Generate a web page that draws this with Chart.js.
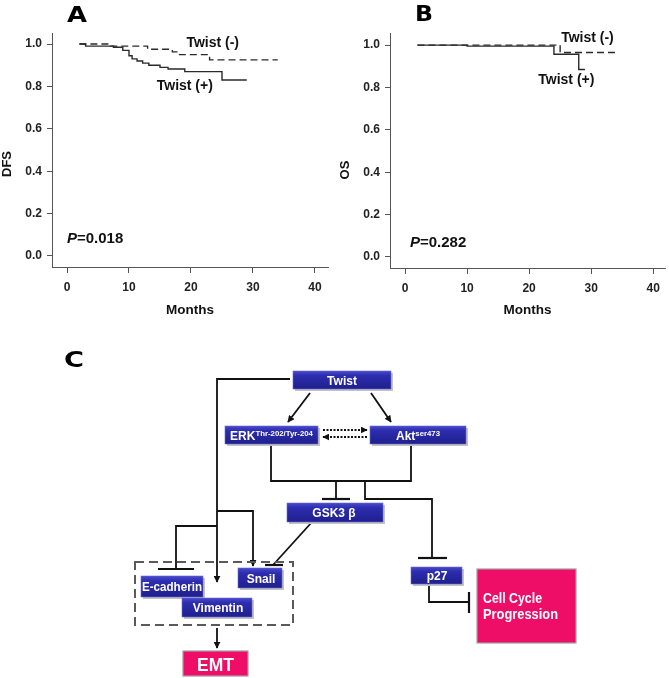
<!DOCTYPE html>
<html>
<head>
<meta charset="utf-8">
<script src="https://cdn.jsdelivr.net/npm/chart.js@4"></script>
<style>
  body { margin: 0; background: #fff; width: 669px; height: 678px; overflow: hidden; position: relative; font-family: "Liberation Sans", Arial, sans-serif; }
  canvas { position: absolute; top: 0; }
  #dfs { left: 0; }
  #os { left: 335px; }
  svg { position: absolute; left: 0; top: 0; }
  .box text { fill: #fff; font-weight: bold; font-size: 12px; text-anchor: middle; }
  .panel { font-family: "DejaVu Sans", sans-serif; font-weight: bold; fill: #000; }
</style>
</head>
<body>
<canvas id="dfs" width="335" height="320"></canvas>
<canvas id="os" width="334" height="320"></canvas>

<svg width="669" height="678" xmlns="http://www.w3.org/2000/svg">
  <defs>
    <linearGradient id="blue" x1="0" y1="0" x2="0" y2="1">
      <stop offset="0" stop-color="#4a4acc"/>
      <stop offset="0.25" stop-color="#2d2db0"/>
      <stop offset="1" stop-color="#1f1f8c"/>
    </linearGradient>
    <marker id="head" viewBox="0 0 10 10" refX="9" refY="5" markerUnits="userSpaceOnUse" markerWidth="7" markerHeight="7" orient="auto">
      <path d="M0,0 L10,5 L0,10 z" fill="#111"/>
    </marker>
  </defs>

  <!-- panel letters -->
  <text class="panel" x="67" y="22" font-size="21" textLength="20" lengthAdjust="spacingAndGlyphs">A</text>
  <text class="panel" x="415" y="21" font-size="21" textLength="18" lengthAdjust="spacingAndGlyphs">B</text>
  <text class="panel" x="64" y="367" font-size="22" textLength="20" lengthAdjust="spacingAndGlyphs">C</text>

  <!-- connectors -->
  <g stroke="#111" stroke-width="1.8" fill="none">
    <polyline points="290,379 217,379 217,582" marker-end="url(#head)"/>
    <polyline points="217,511 253,511 253,566" marker-end="url(#head)"/>
    <polyline points="217,526 176,526 176,569"/>
    <line x1="158" y1="569" x2="194" y2="569" stroke-width="2.2"/>
    <line x1="312" y1="522" x2="273" y2="565"/>
    <line x1="265" y1="565" x2="283" y2="565" stroke-width="2.2"/>
    <line x1="310" y1="393" x2="288" y2="422" marker-end="url(#head)"/>
    <line x1="371" y1="393" x2="391" y2="422" marker-end="url(#head)"/>
    <polyline points="271,444 271,481 411,481 411,444"/>
    <line x1="336" y1="481" x2="336" y2="499"/>
    <line x1="322" y1="499" x2="350" y2="499" stroke-width="2.2"/>
    <polyline points="365,481 365,499 432,499 432,558"/>
    <line x1="418" y1="558" x2="447" y2="558" stroke-width="2.2"/>
    <polyline points="429,585 429,602 469,602"/>
    <line x1="469" y1="592" x2="469" y2="613" stroke-width="2.2"/>
    <line x1="217" y1="628" x2="217" y2="648" marker-end="url(#head)"/>
    <line x1="323" y1="430" x2="367" y2="430" stroke-dasharray="2 1.5" stroke-width="2" marker-end="url(#head)"/>
    <line x1="367" y1="437" x2="323" y2="437" stroke-dasharray="2 1.5" stroke-width="2" marker-end="url(#head)"/>
  </g>
  <rect x="135" y="562" width="158" height="63" fill="none" stroke="#5a5a5a" stroke-width="2" stroke-dasharray="9 5"/>

  <!-- protein boxes -->
  <g class="box">
    <rect x="295" y="373" width="98" height="18" fill="#c4c4c4"/>
    <rect x="293" y="371" width="98" height="18" fill="url(#blue)" stroke="#6a6ad8" stroke-width="0.6"/>
    <text x="342" y="384.5">Twist</text>

    <rect x="227" y="428" width="93" height="18" fill="#c4c4c4"/>
    <rect x="225" y="426" width="93" height="18" fill="url(#blue)" stroke="#6a6ad8" stroke-width="0.6"/>
    <text x="271.5" y="440">ERK<tspan font-size="7.8" dy="-4.5">Thr-202/Tyr-204</tspan></text>

    <rect x="372" y="428" width="96" height="18" fill="#c4c4c4"/>
    <rect x="370" y="426" width="96" height="18" fill="url(#blue)" stroke="#6a6ad8" stroke-width="0.6"/>
    <text x="418" y="440">Akt<tspan font-size="7.8" dy="-4.5">ser473</tspan></text>

    <rect x="289" y="505" width="96" height="19" fill="#c4c4c4"/>
    <rect x="287" y="503" width="96" height="19" fill="url(#blue)" stroke="#6a6ad8" stroke-width="0.6"/>
    <text x="334" y="517">GSK3 β</text>

    <rect x="143" y="578" width="62" height="21" fill="#c4c4c4"/>
    <rect x="141" y="576" width="62" height="21" fill="url(#blue)" stroke="#6a6ad8" stroke-width="0.6"/>
    <text x="172" y="591" textLength="60" lengthAdjust="spacingAndGlyphs">E-cadherin</text>

    <rect x="240" y="570" width="44" height="20" fill="#c4c4c4"/>
    <rect x="238" y="568" width="44" height="20" fill="url(#blue)" stroke="#6a6ad8" stroke-width="0.6"/>
    <text x="261" y="582.5">Snail</text>

    <rect x="184" y="600" width="70" height="19" fill="#c4c4c4"/>
    <rect x="182" y="598" width="70" height="19" fill="url(#blue)" stroke="#6a6ad8" stroke-width="0.6"/>
    <text x="218" y="612">Vimentin</text>

    <rect x="413" y="569" width="51" height="17" fill="#c4c4c4"/>
    <rect x="411" y="567" width="51" height="17" fill="url(#blue)" stroke="#6a6ad8" stroke-width="0.6"/>
    <text x="437" y="580">p27</text>
  </g>

  <!-- outcome boxes -->
  <rect x="183" y="651" width="65" height="25" fill="#ee0e68" stroke="#a0a0a0" stroke-width="1.2"/>
  <text x="215.5" y="670.5" fill="#fff" font-size="18.5" font-weight="bold" text-anchor="middle" textLength="37" lengthAdjust="spacingAndGlyphs">EMT</text>
  <rect x="477" y="569" width="99" height="74" fill="#ee0e68" stroke="#a0a0a0" stroke-width="1.2"/>
  <text fill="#fff" font-size="15" font-weight="bold">
    <tspan x="483" y="603" textLength="59" lengthAdjust="spacingAndGlyphs">Cell Cycle</tspan>
    <tspan x="483" y="619" textLength="75" lengthAdjust="spacingAndGlyphs">Progression</tspan>
  </text>
</svg>

<script>
// tick values
const monthTicks = [0, 10, 20, 30, 40];
const survTicks = [0, 0.2, 0.4, 0.6, 0.8, 1.0];

// panel A: disease-free survival, step points (month, proportion)
const dfsNegMonths = [2, 7, 13, 17, 18, 23, 34];
const dfsNegValues = [1.0, 0.99, 0.975, 0.963, 0.95, 0.925, 0.925];
const dfsPosMonths = [2, 3, 7.5, 9, 10, 10.5, 11.3, 12.2, 13.2, 15, 16.3, 19, 25, 29];
const dfsPosValues = [1.0, 0.99, 0.985, 0.97, 0.945, 0.93, 0.92, 0.91, 0.9, 0.89, 0.882, 0.87, 0.83, 0.83];

// panel B: overall survival
const osNegMonths = [2, 25, 34];
const osNegValues = [1.0, 0.965, 0.965];
const osPosMonths = [2, 10, 24, 28, 29];
const osPosValues = [1.0, 0.995, 0.957, 0.885, 0.885];

const axisColor = '#555';
const lineColor = '#2a2a2a';
const tickFont = { family: 'Liberation Sans, Arial, sans-serif', size: 12, weight: 'bold' };

function pts(xs, ys) {
    return xs.map((x, i) => ({ x: x, y: ys[i] }));
}

function kmChart(id, neg, pos, cfg) {
    const notes = {
        id: 'notes',
        afterDraw(chart) {
            const c = chart.ctx;
            const sx = chart.scales.x, sy = chart.scales.y;
            c.save();
            c.fillStyle = '#111';
            c.textBaseline = 'middle';
            c.font = 'bold 14px Liberation Sans, Arial, sans-serif';
            c.textAlign = 'center';
            c.fillText('Twist (-)', sx.getPixelForValue(cfg.negLabel[0]), sy.getPixelForValue(cfg.negLabel[1]));
            c.fillText('Twist (+)', sx.getPixelForValue(cfg.posLabel[0]), sy.getPixelForValue(cfg.posLabel[1]));
            // axis titles
            c.font = 'bold 13.5px Liberation Sans, Arial, sans-serif';
            c.fillText('Months', (chart.chartArea.left + chart.chartArea.right) / 2, 310);
            c.save();
            c.translate(cfg.yTitle[0], cfg.yTitle[1]);
            c.rotate(-Math.PI / 2);
            c.font = 'bold 13px Liberation Sans, Arial, sans-serif';
            c.fillText(cfg.yTitleText, 0, 0);
            c.restore();
            // p value
            c.textAlign = 'left';
            const px = sx.getPixelForValue(cfg.pLabel[0]), py = sy.getPixelForValue(cfg.pLabel[1]);
            c.font = 'italic bold 15px Liberation Sans, Arial, sans-serif';
            c.fillText('P', px, py);
            const w = c.measureText('P').width;
            c.font = 'bold 15px Liberation Sans, Arial, sans-serif';
            c.fillText('=' + cfg.pValue, px + w, py);
            c.restore();
        }
    };

    return new Chart(document.getElementById(id), {
        type: 'line',
        data: {
            datasets: [
                {
                    label: 'Twist (-)',
                    data: pts(neg[0], neg[1]),
                    borderColor: lineColor,
                    borderWidth: 1.4,
                    borderDash: [7, 4],
                    stepped: true,
                    pointRadius: 0,
                    fill: false,
                },
                {
                    label: 'Twist (+)',
                    data: pts(pos[0], pos[1]),
                    borderColor: lineColor,
                    borderWidth: 1.4,
                    stepped: true,
                    pointRadius: 0,
                    fill: false,
                },
            ]
        },
        options: {
            responsive: false,
            animation: false,
            layout: { padding: { top: 33, right: cfg.padRight, left: 0, bottom: 0 } },
            plugins: {
                legend: { display: false },
                tooltip: { enabled: false },
            },
            scales: {
                x: {
                    type: 'linear',
                    min: -2.42,
                    max: cfg.xMax,
                    afterBuildTicks: s => { s.ticks = monthTicks.map(v => ({ value: v })); },
                    afterFit: s => { s.height = cfg.xHeight; },
                    grid: { drawOnChartArea: false, drawTicks: true, tickLength: 6, color: axisColor },
                    border: { color: axisColor, width: 1 },
                    ticks: { font: tickFont, color: '#222', padding: 7, maxRotation: 0 },
                },
                y: {
                    type: 'linear',
                    min: -0.052,
                    max: cfg.yMax,
                    afterBuildTicks: s => { s.ticks = survTicks.map(v => ({ value: v })); },
                    afterFit: s => { s.width = cfg.yWidth; },
                    grid: { drawOnChartArea: false, drawTicks: true, tickLength: 5, color: axisColor },
                    border: { color: axisColor, width: 1 },
                    ticks: { font: tickFont, color: '#222', padding: 5, callback: v => v.toFixed(1) },
                },
            },
        },
        plugins: [notes],
    });
}

kmChart('dfs', [dfsNegMonths, dfsNegValues], [dfsPosMonths, dfsPosValues], {
    padRight: 7, xMax: 42.1, yMax: 1.052, xHeight: 53, yWidth: 52,
    negLabel: [23.5, 1.005], posLabel: [19.0, 0.802], pLabel: [0, 0.08], pValue: '0.018',
    yTitle: [7, 164], yTitleText: 'DFS',
});

kmChart('os', [osNegMonths, osNegValues], [osPosMonths, osPosValues], {
    padRight: 4, xMax: 41.9, yMax: 1.057, xHeight: 52, yWidth: 55,
    negLabel: [29.4, 1.033], posLabel: [26.0, 0.835], pLabel: [0.8, 0.066], pValue: '0.282',
    yTitle: [10, 170], yTitleText: 'OS',
});
</script>
</body>
</html>
